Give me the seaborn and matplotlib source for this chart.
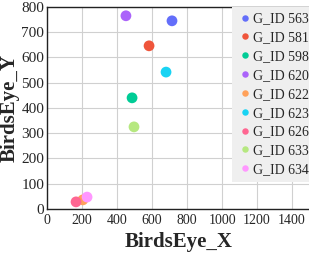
import matplotlib
matplotlib.use("Agg")
from matplotlib import pyplot as plt
import seaborn as sns
import pandas as pd

# values
g_ids = ['G_ID 563', 'G_ID 581', 'G_ID 598', 'G_ID 620', 'G_ID 622',
         'G_ID 623', 'G_ID 626', 'G_ID 633', 'G_ID 634']
birds_x = [714, 583, 486, 451, 205, 680, 166, 497, 229]
birds_y = [745, 646, 440, 765, 36, 542, 28, 325, 47]
colors = ['#636EFA', '#EF553B', '#00CC96', '#AB63FA', '#FFA15A',
          '#19D3F3', '#FF6692', '#B6E880', '#FF97FF']

df = pd.DataFrame({'BirdsEye_X': birds_x, 'BirdsEye_Y': birds_y, 'id': g_ids})

sns.set_style('whitegrid')
plt.rcParams['font.family'] = ['Liberation Serif', 'DejaVu Serif']

fig = plt.figure(figsize=(3.09, 2.57), dpi=100)
ax = fig.add_axes([0.152, 0.187, 0.85, 0.786])
sns.scatterplot(data=df, x='BirdsEye_X', y='BirdsEye_Y', hue='id',
                palette=dict(zip(g_ids, colors)), s=60, linewidth=0, ax=ax)

ax.set_xlim(0, 1500)
ax.set_ylim(0, 800)
ax.set_xticks(range(0, 1401, 200))
ax.set_yticks(range(0, 801, 100))
ax.tick_params(axis='x', labelsize=10, pad=4, length=0)
ax.tick_params(axis='y', labelsize=11, pad=2, length=0)
ax.grid(True, color='#d0d0d0', linewidth=0.8)
for side in ['left', 'bottom', 'top']:
    ax.spines[side].set_color('#222222')
    ax.spines[side].set_linewidth(1.0)
ax.spines['right'].set_visible(False)
ax.set_xlabel('BirdsEye_X', fontsize=15, fontweight='bold', labelpad=3)
ax.set_ylabel('BirdsEye_Y', fontsize=15, fontweight='bold', labelpad=1)

leg = ax.legend(loc='upper right', bbox_to_anchor=(1.02, 1.0), fontsize=10,
                frameon=True, fancybox=False, markerscale=0.6,
                handletextpad=0.1, borderpad=0.4, labelspacing=0.42,
                handlelength=1.0, borderaxespad=0)
leg.get_frame().set_facecolor('#efefef')
leg.get_frame().set_edgecolor('none')
leg.get_frame().set_alpha(1.0)

fig.savefig('out.png', dpi=100)
